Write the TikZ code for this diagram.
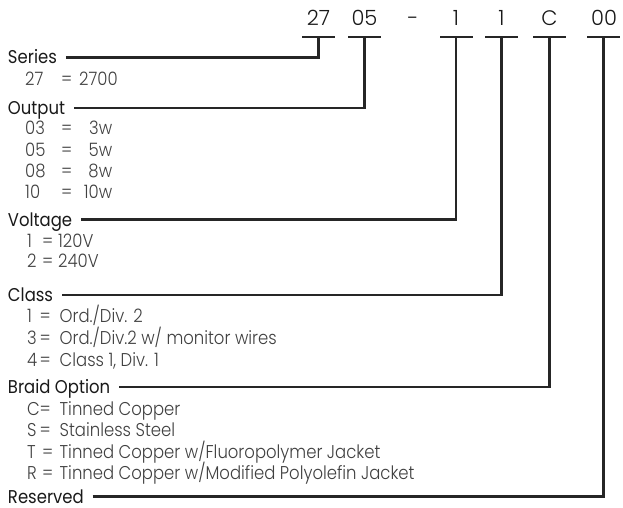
\documentclass[tikz,border=0pt]{standalone}
\usepackage{fontspec}
\setmainfont{Poppins}[FakeStretch=0.89]
\newfontfamily\lightfont{Poppins}[UprightFont={* Light},FakeStretch=0.89]
\newfontfamily\codefont{Poppins}[UprightFont={* Light}]
\begin{document}
\begin{tikzpicture}[x=1pt,y=-1pt,
  lbl/.style={anchor=base west, inner xsep=0pt, inner ysep=0pt, outer xsep=9pt, outer ysep=0pt,
    text height=13pt, text depth=0pt, font=\fontsize{18.5}{21}\selectfont, text=black!90},
  itm/.style={anchor=base west, inner sep=0pt, font=\lightfont\fontsize{18.5}{21}\selectfont, text=black!75},
  code/.style={anchor=base, inner sep=0pt, font=\codefont\fontsize{21}{24}\selectfont, text=black!90},
  barn/.style={draw=none, fill=black!85, minimum width=33pt, minimum height=2.5pt, inner sep=0pt, outer sep=0pt},
  conn/.style={draw=black!85, line width=2.5pt, line join=miter}]
\useasboundingbox (0,0) rectangle (623,508);
% top code
\node[code] (t27) at (318.5,26) {27};
\node[code] (t05) at (364.5,26) {05};
\node[code] (tdash) at (413,26) {-};
\node[code] (t1a) at (456,26) {1};
\node[code] (t1b) at (501.5,26) {1};
\node[code] (tC) at (549.5,26) {C};
\node[code] (t00) at (604,26) {00};
\node[barn] (b27) at (318.5,37) {};
\node[barn] (b05) at (364.5,37) {};
\node[barn] (b1a) at (456,37) {};
\node[barn] (b1b) at (501.5,37) {};
\node[barn] (bC) at (549.5,37) {};
\node[barn] (b00) at (603.5,37) {};
% labels
\node[lbl] (lSeries) at (-1,64) {Series};
\node[lbl] (lOutput) at (-1,114.5) {Output};
\node[lbl] (lVoltage) at (-1,226) {Voltage};
\node[lbl] (lClass) at (-1,301.5) {Class};
\node[lbl] (lBraid) at (-1,393.5) {Braid Option};
\node[lbl] (lReserved) at (-1,503) {Reserved};
% items
\node[itm] (s1) at (25,86) {\makebox[36pt][l]{27}\makebox[18pt][l]{=}2700};
\node[itm] (o1) at (25,135) {\makebox[36pt][l]{03}\makebox[15pt][l]{=}\makebox[36pt][r]{3w}};
\node[itm] (o2) at (25,156) {\makebox[36pt][l]{05}\makebox[15pt][l]{=}\makebox[36pt][r]{5w}};
\node[itm] (o3) at (25,177) {\makebox[36pt][l]{08}\makebox[15pt][l]{=}\makebox[36pt][r]{8w}};
\node[itm] (o4) at (25,198) {\makebox[36pt][l]{10}\makebox[15pt][l]{=}\makebox[36pt][r]{10w}};
\node[itm] (v1) at (27,247) {\makebox[15pt][l]{1}\makebox[16pt][l]{=}120V};
\node[itm] (v2) at (27,267) {\makebox[15pt][l]{2}\makebox[16pt][l]{=}240V};
\node[itm] (c1) at (27,322) {\makebox[12.5pt][l]{1}\makebox[20pt][l]{=}Ord./Div. 2};
\node[itm] (c2) at (27,344) {\makebox[12.5pt][l]{3}\makebox[20pt][l]{=}Ord./Div.2 w/ monitor wires};
\node[itm] (c3) at (27,366) {\makebox[12.5pt][l]{4}\makebox[20pt][l]{=}Class 1, Div. 1};
\node[itm] (r1) at (27,415) {\makebox[12.5pt][l]{C}\makebox[20pt][l]{=}Tinned Copper};
\node[itm] (r2) at (27,436.5) {\makebox[12.5pt][l]{S}\makebox[20pt][l]{=}Stainless Steel};
\node[itm] (r3) at (27,458) {\makebox[15pt][l]{T}\makebox[17.5pt][l]{=}Tinned Copper w/Fluoropolymer Jacket};
\node[itm] (r4) at (27,479.5) {\makebox[15pt][l]{R}\makebox[17.5pt][l]{=}Tinned Copper w/Modified Polyolefin Jacket};
% connectors
\draw[conn] (lSeries.east) -| (b27.center);
\draw[conn] (lOutput.east) -| (b05.center);
\draw[conn] (lVoltage.east) -| (b1a.center);
\draw[conn] (lClass.east) -| (b1b.center);
\draw[conn] (lBraid.east) -| (bC.center);
\draw[conn] (lReserved.east) -| (b00.center);
\end{tikzpicture}
\end{document}
